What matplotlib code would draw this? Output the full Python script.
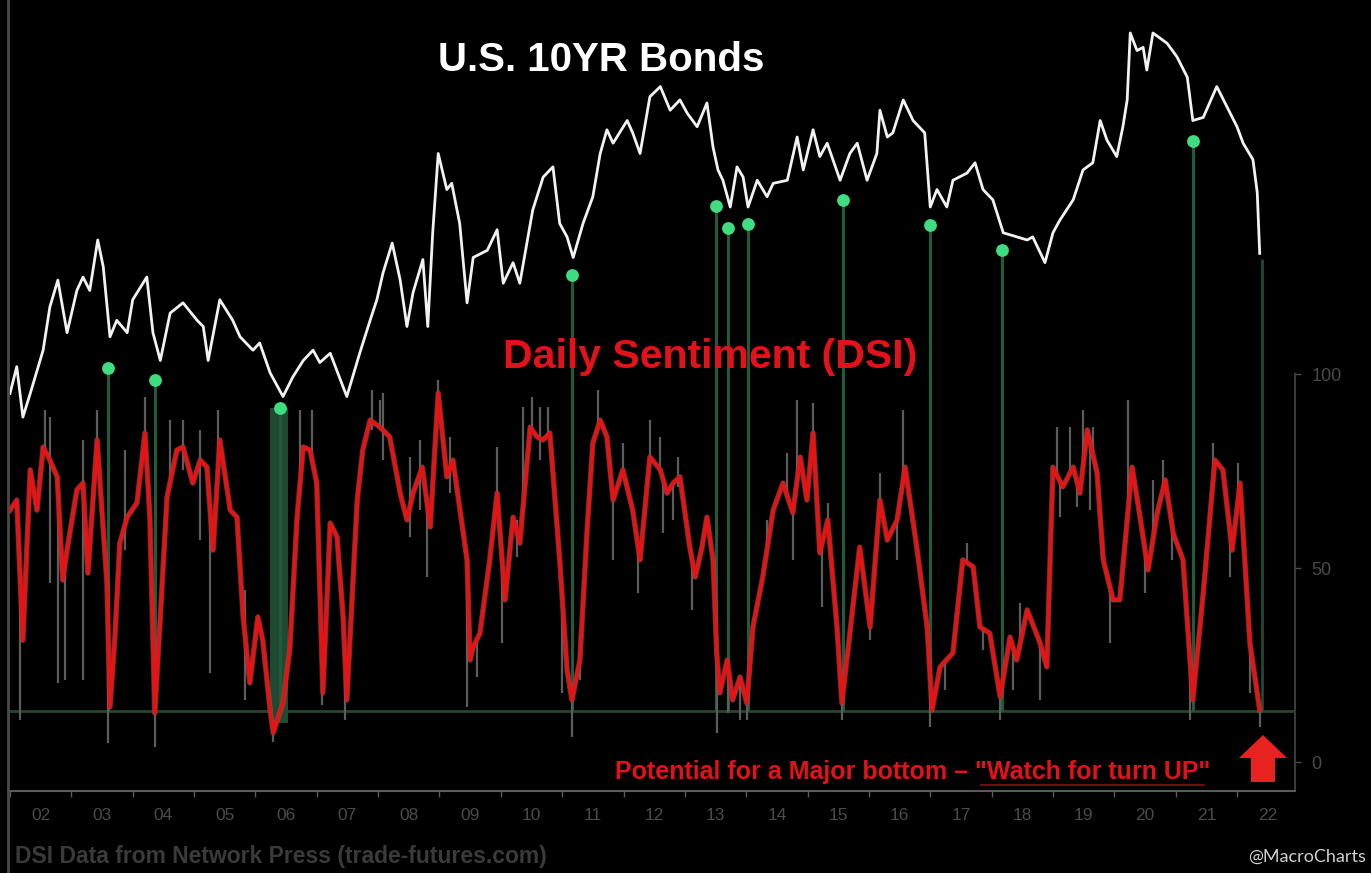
import numpy as np
import matplotlib
matplotlib.use("Agg")
import matplotlib.pyplot as plt
from matplotlib.patches import Polygon
from matplotlib.lines import Line2D

plt.rcParams['font.family'] = ['Liberation Sans', 'DejaVu Sans']

# ---------------- data ----------------
year_labels = ['02', '03', '04', '05', '06', '07', '08', '09', '10', '11', '12',
               '13', '14', '15', '16', '17', '18', '19', '20', '21', '22']
years = list(range(2002, 2023))

bond_t = [2002.00, 2002.11, 2002.21, 2002.33, 2002.54, 2002.65, 2002.78, 2002.93, 2003.09, 2003.19,
          2003.30, 2003.43, 2003.52, 2003.63, 2003.74, 2003.91, 2004.00, 2004.23, 2004.33, 2004.45,
          2004.61, 2004.82, 2005.05, 2005.15, 2005.23, 2005.42, 2005.63, 2005.75, 2005.96, 2006.07,
          2006.24, 2006.45, 2006.61, 2006.78, 2006.94, 2007.05, 2007.22, 2007.49, 2007.70, 2007.87,
          2007.98, 2008.08, 2008.23, 2008.36, 2008.47, 2008.57, 2008.73, 2008.81, 2008.89, 2008.98,
          2009.12, 2009.20, 2009.33, 2009.45, 2009.55, 2009.78, 2009.94, 2010.04, 2010.20, 2010.31,
          2010.52, 2010.69, 2010.85, 2010.96, 2011.08, 2011.18, 2011.34, 2011.50, 2011.62, 2011.73,
          2011.83, 2012.06, 2012.15, 2012.27, 2012.43, 2012.60, 2012.76, 2012.92, 2013.04, 2013.20,
          2013.36, 2013.46, 2013.54, 2013.62, 2013.74, 2013.85, 2013.95, 2014.03, 2014.18, 2014.34,
          2014.44, 2014.67, 2014.83, 2014.93, 2015.09, 2015.20, 2015.32, 2015.53, 2015.69, 2015.81,
          2015.97, 2016.13, 2016.18, 2016.30, 2016.39, 2016.56, 2016.72, 2016.91, 2017.00, 2017.11,
          2017.27, 2017.37, 2017.60, 2017.73, 2017.86, 2018.02, 2018.19, 2018.41, 2018.58, 2018.67,
          2018.87, 2019.00, 2019.11, 2019.33, 2019.49, 2019.65, 2019.77, 2019.88, 2020.04, 2020.14,
          2020.21, 2020.26, 2020.37, 2020.47, 2020.53, 2020.63, 2020.86, 2021.02, 2021.19, 2021.28,
          2021.45, 2021.67, 2021.84, 2022.00, 2022.10, 2022.26, 2022.33, 2022.37]
bond_price = [105.2, 107.8, 102.9, 105.2, 109.4, 113.6, 116.2, 111.1, 115.2, 116.5,
              115.2, 120.1, 117.5, 110.7, 112.3, 111.1, 114.3, 116.5, 111.1, 108.4,
              113.0, 114.0, 112.3, 111.7, 108.4, 114.3, 112.3, 110.7, 109.4, 110.1,
              107.2, 104.9, 106.8, 108.4, 109.4, 108.2, 109.1, 104.9, 109.1, 112.3,
              114.3, 116.9, 119.8, 116.2, 111.7, 115.0, 118.2, 111.7, 120.8, 128.5,
              125.0, 125.6, 121.7, 114.0, 118.4, 119.1, 121.1, 115.9, 117.9, 115.9,
              123.0, 126.2, 127.2, 121.7, 120.4, 118.4, 121.7, 124.3, 128.5, 130.8,
              129.5, 131.7, 130.5, 128.5, 134.0, 135.0, 132.7, 133.7, 132.4, 131.1,
              133.4, 129.1, 126.9, 125.9, 123.3, 127.2, 126.2, 123.3, 125.9, 124.3,
              125.6, 125.9, 130.1, 126.9, 130.8, 128.2, 129.5, 125.9, 128.5, 129.5,
              125.9, 128.5, 132.7, 130.1, 130.5, 133.7, 131.7, 130.5, 123.3, 125.0,
              123.3, 125.9, 126.6, 127.6, 125.0, 124.0, 120.8, 120.4, 120.1, 120.4,
              117.9, 120.8, 122.0, 124.0, 126.9, 127.6, 131.7, 129.8, 128.2, 131.1,
              133.7, 140.2, 138.5, 138.8, 136.6, 140.2, 139.2, 137.9, 135.9, 131.7,
              132.0, 135.0, 133.0, 131.1, 129.5, 127.9, 124.7, 118.8]

dsi_t = [2002.00, 2002.11, 2002.21, 2002.33, 2002.44, 2002.54, 2002.65, 2002.77, 2002.86, 2002.93,
         2003.09, 2003.19, 2003.27, 2003.42, 2003.58, 2003.63, 2003.71, 2003.79, 2003.91, 2004.07,
         2004.20, 2004.28, 2004.36, 2004.45, 2004.56, 2004.72, 2004.82, 2004.98, 2005.10, 2005.21,
         2005.31, 2005.42, 2005.59, 2005.70, 2005.80, 2005.91, 2006.04, 2006.12, 2006.24, 2006.29,
         2006.45, 2006.56, 2006.68, 2006.78, 2006.89, 2007.00, 2007.10, 2007.22, 2007.33, 2007.43,
         2007.49, 2007.66, 2007.75, 2007.87, 2008.03, 2008.19, 2008.36, 2008.47, 2008.57, 2008.72,
         2008.85, 2008.98, 2009.12, 2009.22, 2009.45, 2009.50, 2009.55, 2009.66, 2009.82, 2009.94,
         2010.07, 2010.20, 2010.31, 2010.48, 2010.59, 2010.69, 2010.80, 2010.96, 2011.08, 2011.16,
         2011.29, 2011.41, 2011.50, 2011.62, 2011.73, 2011.83, 2011.99, 2012.15, 2012.27, 2012.43,
         2012.60, 2012.71, 2012.81, 2012.92, 2013.08, 2013.17, 2013.28, 2013.36, 2013.46, 2013.52,
         2013.57, 2013.69, 2013.78, 2013.90, 2014.01, 2014.11, 2014.27, 2014.44, 2014.60, 2014.76,
         2014.88, 2014.99, 2015.09, 2015.20, 2015.33, 2015.48, 2015.56, 2015.69, 2015.85, 2016.02,
         2016.18, 2016.30, 2016.46, 2016.59, 2016.78, 2016.95, 2017.03, 2017.16, 2017.37, 2017.53,
         2017.70, 2017.81, 2017.97, 2018.14, 2018.30, 2018.41, 2018.58, 2018.79, 2018.90, 2019.00,
         2019.16, 2019.33, 2019.44, 2019.56, 2019.72, 2019.82, 2019.98, 2020.09, 2020.29, 2020.42,
         2020.55, 2020.70, 2020.83, 2020.96, 2021.12, 2021.28, 2021.45, 2021.64, 2021.77, 2021.92,
         2022.05, 2022.21, 2022.33, 2022.37]
dsi_value = [64.9, 67.5, 31.4, 75.3, 64.9, 81.2, 77.8, 73.5, 46.9, 54.6,
             70.1, 71.9, 48.7, 83.0, 46.1, 14.2, 32.2, 56.4, 63.1, 66.8,
             84.8, 63.1, 12.6, 37.4, 68.3, 80.4, 81.2, 71.9, 77.8, 76.0,
             54.6, 83.0, 64.9, 63.1, 37.4, 20.4, 37.4, 31.4, 13.4, 7.5,
             15.2, 28.9, 63.1, 81.2, 80.4, 71.9, 17.8, 61.6, 58.0, 37.4,
             16.0, 67.5, 80.4, 88.1, 86.3, 83.8, 69.3, 62.4, 69.3, 76.0,
             60.6, 95.1, 73.5, 77.8, 52.1, 26.3, 29.6, 33.2, 52.1, 69.3,
             41.8, 63.1, 56.4, 86.3, 83.8, 83.0, 84.8, 52.1, 23.7, 16.0,
             26.3, 60.6, 82.2, 88.1, 83.8, 67.5, 75.3, 64.9, 52.1, 78.6,
             75.3, 69.3, 71.9, 73.5, 55.4, 47.7, 55.4, 63.1, 52.1, 28.1,
             17.8, 26.3, 16.0, 21.9, 15.2, 34.8, 47.7, 64.9, 71.9, 64.2,
             78.6, 67.5, 84.8, 53.9, 62.4, 34.8, 15.2, 33.2, 55.4, 34.8,
             67.5, 57.2, 62.4, 76.0, 55.4, 34.8, 13.4, 24.5, 28.1, 52.1,
             50.3, 34.8, 33.2, 16.8, 32.2, 26.3, 39.2, 30.7, 24.5, 76.0,
             70.9, 76.0, 69.3, 85.6, 74.5, 52.1, 41.8, 41.8, 76.0, 63.1,
             49.5, 64.2, 72.7, 59.0, 52.1, 16.0, 43.6, 77.8, 75.3, 54.6,
             71.9, 30.7, 17.8, 13.4]

# raw daily DSI extremes (gray spikes)
spike_t = [2002.16, 2002.57, 2002.65, 2002.78, 2002.90, 2003.19, 2003.42, 2003.60, 2003.87, 2004.20,
           2004.36, 2004.61, 2004.82, 2005.10, 2005.26, 2005.39, 2005.83, 2006.29, 2006.73, 2006.92,
           2007.09, 2007.46, 2007.90, 2008.03, 2008.08, 2008.52, 2008.68, 2008.80, 2008.98, 2009.17,
           2009.45, 2009.61, 2009.94, 2010.02, 2010.26, 2010.36, 2010.51, 2010.64, 2010.77, 2011.00,
           2011.16, 2011.29, 2011.58, 2011.83, 2011.99, 2012.24, 2012.43, 2012.59, 2012.64, 2012.81,
           2012.89, 2013.12, 2013.52, 2013.70, 2013.90, 2014.01, 2014.34, 2014.67, 2014.76, 2014.83,
           2015.09, 2015.24, 2015.33, 2015.56, 2016.02, 2016.18, 2016.46, 2016.56, 2017.00, 2017.24,
           2017.60, 2017.86, 2018.14, 2018.35, 2018.46, 2018.79, 2019.07, 2019.11, 2019.28, 2019.39,
           2019.49, 2019.60, 2019.65, 2019.93, 2020.22, 2020.50, 2020.63, 2020.79, 2020.94, 2021.23,
           2021.61, 2021.89, 2022.02, 2022.21, 2022.37]
spike_hi = [33.2, 90.7, 88.9, 52.8, 52.1, 83.0, 90.7, 14.2, 80.4, 94.1,
            12.6, 88.1, 88.1, 85.6, 28.9, 90.7, 44.3, 10.8, 90.7, 90.7,
            18.6, 18.6, 95.9, 93.3, 95.1, 78.6, 83.0, 57.2, 98.5, 83.8,
            46.1, 26.3, 81.2, 41.8, 62.4, 91.5, 94.1, 91.5, 91.5, 24.5,
            16.0, 33.2, 95.9, 64.9, 82.2, 52.1, 88.1, 83.8, 69.3, 70.9,
            78.6, 48.7, 17.8, 15.2, 17.8, 14.2, 62.4, 79.6, 62.4, 93.3,
            92.5, 48.7, 66.8, 14.2, 34.8, 74.5, 60.6, 90.7, 13.4, 26.3,
            56.4, 34.8, 17.8, 26.3, 41.0, 21.1, 86.3, 70.9, 86.3, 70.9,
            90.7, 70.9, 86.3, 39.2, 93.3, 50.3, 72.7, 77.8, 58.0, 14.2,
            82.2, 53.9, 77.1, 28.1, 13.4]
spike_lo = [10.8, 80.4, 46.1, 20.4, 21.1, 21.1, 83.0, 4.9, 54.6, 84.8,
            3.9, 75.3, 75.3, 57.2, 22.9, 83.0, 16.0, 5.2, 80.4, 80.4,
            14.7, 10.8, 85.6, 85.6, 77.8, 58.0, 64.9, 47.7, 95.1, 69.3,
            14.2, 21.9, 67.5, 30.7, 52.8, 79.6, 86.3, 77.8, 83.8, 17.8,
            6.4, 21.1, 86.3, 52.1, 73.5, 43.6, 77.8, 75.3, 59.0, 62.4,
            70.9, 39.2, 7.5, 12.6, 10.8, 10.8, 59.0, 69.3, 52.1, 77.8,
            84.8, 39.9, 63.1, 10.8, 31.4, 67.5, 52.1, 77.8, 9.0, 18.6,
            52.1, 28.9, 10.8, 18.6, 36.6, 16.0, 77.8, 63.1, 77.8, 65.7,
            86.3, 64.9, 82.2, 30.7, 77.8, 43.6, 65.7, 69.3, 52.1, 10.8,
            77.8, 47.7, 72.7, 17.8, 9.0]

# buy signals: date and bond price where the green dot sits
signal_t = [2003.60, 2004.36, 2006.40, 2011.16, 2013.51, 2013.70, 2014.03, 2015.58, 2017.00, 2018.17, 2021.28]
signal_price = [107.7, 106.5, 103.8, 116.7, 123.4, 121.3, 121.7, 124.0, 121.6, 119.1, 129.7]
current_t = 2022.40
current_price = 118.3
band_2006 = (2006.24, 2006.53)
dsi_threshold = 13.1

# ---------------- figure ----------------
W, H = 1371, 873
fig = plt.figure(figsize=(W / 100, H / 100), dpi=100, facecolor='black')
ax = fig.add_axes([8 / W, 82 / H, 1287 / W, 771 / H])
ax.set_facecolor('black')
ax.set_xlim(2002 - 2 / 61.35, 2002 + 1285 / 61.35)
ax.set_ylim(-7.47, 191.24)

ax2 = ax.twinx()
ax2.set_ylim(66.6, 141.46)
ax2.set_axis_off()
ax.yaxis.tick_right()


def price_to_dsi(t, p):
    disp = ax2.transData.transform((t, p))
    return ax.transData.inverted().transform(disp)[1]


# threshold line
ax.axhline(dsi_threshold, color='#29442f', lw=2, zorder=1)

# signal vertical lines
tops = [price_to_dsi(t, p) for t, p in zip(signal_t, signal_price)]
ax.vlines(signal_t, dsi_threshold, tops, color='#1f5a3a', lw=2.2, zorder=1.5)
ax.vlines([current_t], dsi_threshold, [price_to_dsi(current_t, current_price)],
          color='#1f4a33', lw=2.0, zorder=1.5)
band_top = tops[signal_t.index(2006.40)]
ax.fill_between(list(band_2006), 10, band_top, color='#1d4a31', lw=0, zorder=1.4)

# gray raw spikes
red_at = np.interp(spike_t, dsi_t, dsi_value)
lo = np.minimum(spike_lo, red_at)
hi = np.maximum(spike_hi, red_at)
ax.vlines(spike_t, lo, hi, color='#5c5c5c', lw=1.6, zorder=2)
ax.plot(dsi_t, dsi_value, color='#6a6a6a', lw=4.0, alpha=0.55, zorder=2.5)
ax.plot(dsi_t, dsi_value, color='#e41414', lw=3.0, zorder=3, solid_joinstyle='round')

# bond line and dots
ax2.plot(bond_t, bond_price, color='#f2f2f2', lw=2.0, zorder=3)
ax2.scatter(signal_t, signal_price, s=85, color='#3fdc80', zorder=4, linewidths=0)

# ---- axes styling ----
for s in ['top', 'left']:
    ax.spines[s].set_visible(False)
ax.spines['right'].set_color('#3a3a3a')
ax.spines['right'].set_linewidth(1.5)
ax.spines['right'].set_bounds(-7.47, 100)
ax.spines['bottom'].set_color('#5a5a5a')
ax.spines['bottom'].set_linewidth(1.5)

ax.set_yticks([0, 50, 100])
ax.set_yticklabels(['0', '50', '100'])
ax.tick_params(axis='y', colors='#4a4a4a', labelsize=13, length=4, width=1, pad=8)

ax.set_xticks(years)
ax.set_xticklabels([])
ax.set_xticks([y + 0.5 for y in years], minor=True)
ax.set_xticklabels(year_labels, minor=True)
ax.tick_params(axis='x', which='major', length=4, color='#5a5a5a', width=1)
ax.tick_params(axis='x', which='minor', length=0, labelsize=12.5, labelcolor='#4a4a4a', pad=12)
for lab in ax.get_xticklabels(minor=True):
    lab.set_family(['Liberation Sans Narrow', 'Liberation Sans', 'DejaVu Sans'])

# left border line across the full height
fig.add_artist(Line2D([8 / W, 8 / W], [0, 1], transform=fig.transFigure, color='#4a4a4a', lw=2))

# ---- texts ----
fig.text(601 / W, 1 - 60 / H, 'U.S. 10YR Bonds', color='white', fontsize=29,
         fontweight='bold', ha='center', va='center')
fig.text(710 / W, 1 - 357 / H, 'Daily Sentiment (DSI)', color='#e3121a', fontsize=29.5,
         fontweight='bold', ha='center', va='center')

t1 = fig.text(615 / W, 1 - 772 / H, 'Potential for a Major bottom \u2013 ', color='#e3121a',
              fontsize=18, fontweight='bold', ha='left', va='center')
fig.canvas.draw()
r = fig.canvas.get_renderer()
bb1 = t1.get_window_extent(renderer=r)
t2 = fig.text(bb1.x1 / W, 1 - 772 / H, '"Watch for turn UP"', color='#e3121a',
              fontsize=18, fontweight='bold', ha='left', va='center')
bb2 = t2.get_window_extent(renderer=r)
fig.add_artist(Line2D([(bb2.x0 + 6) / W, (bb2.x1 - 6) / W], [(bb2.y0 - 1) / H, (bb2.y0 - 1) / H],
                      transform=fig.transFigure, color='#8a1010', lw=1.2))

# up arrow
arrow_px = [(1263, 735), (1287, 758), (1275, 758), (1275, 782), (1251, 782), (1251, 758), (1239, 758)]
fig.add_artist(Polygon([(x / W, 1 - y / H) for x, y in arrow_px], closed=True,
                       transform=fig.transFigure, facecolor='#e8231f', edgecolor='none'))

fig.text(15 / W, 1 - 857 / H, 'DSI Data from Network Press (trade-futures.com)', color='#3a3a3a',
         fontsize=16.5, fontweight='bold', ha='left', va='center')
fig.text(1366 / W, 1 - 857 / H, '@MacroCharts', color='#d0d0d0', fontsize=13,
         ha='right', va='center', family=['Lato', 'DejaVu Sans'])

fig.savefig('out.png', dpi=100, facecolor='black')
